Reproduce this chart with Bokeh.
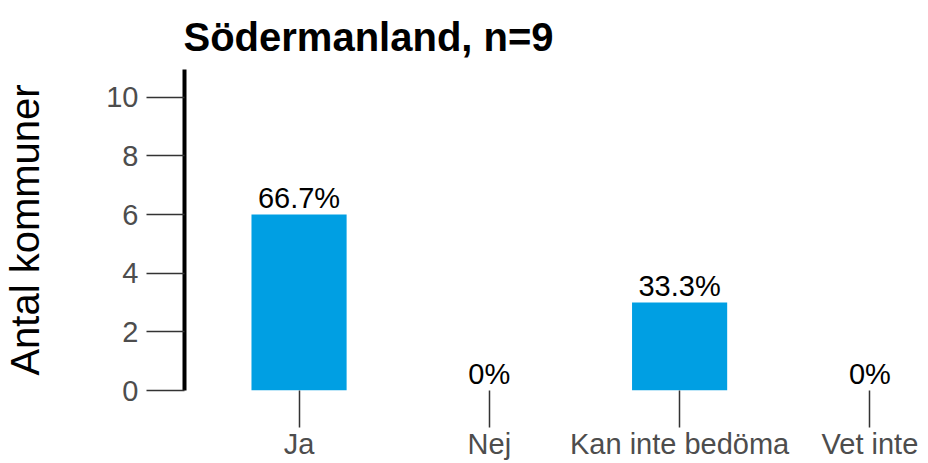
from bokeh.plotting import figure
from bokeh.models import Range1d, FixedTicker, ColumnDataSource, LabelSet
from bokeh.core.properties import value
from bokeh.embed import file_html
from bokeh.resources import INLINE

# Data
categories = ["Ja", "Nej", "Kan inte bedöma", "Vet inte"]
counts = [6, 0, 3, 0]
pct_labels = ["66.7%", "0%", "33.3%", "0%"]
y_ticks = [0, 2, 4, 6, 8, 10]
title_text = "Södermanland, n=9"
y_label = "Antal kommuner"

positions = list(range(1, len(categories) + 1))

FONT = "Liberation Sans"
BAR_COLOR = "#009FE3"

p = figure(
    width=928, height=463,
    x_range=Range1d(0.398, 4.308),
    y_range=Range1d(0, 10.95),
    output_backend="svg", toolbar_location=None,
    min_border_left=184, min_border_right=0,
    min_border_top=69, min_border_bottom=73,
    title=title_text,
)
p.outline_line_color = None
p.background_fill_color = "white"
p.border_fill_color = "white"
p.xgrid.visible = False
p.ygrid.visible = False

src = ColumnDataSource(dict(x=positions, top=counts, lab=pct_labels))
p.vbar(x="x", top="top", bottom=0, width=0.5, source=src,
       fill_color=BAR_COLOR, line_color=None)

labels = LabelSet(x="x", y="top", text="lab", source=src,
                  text_align="center", text_baseline="alphabetic",
                  y_offset=7, text_font=value(FONT), text_font_size=value("29px"),
                  text_color=value("black"))
p.add_layout(labels)

# Title
p.title.text_font = FONT
p.title.text_font_size = "40px"
p.title.text_font_style = "bold"
p.title.text_color = "black"
p.title.align = "left"
p.title.standoff = 21
p.title.offset = -1

# Y axis
ya = p.yaxis[0]
ya.ticker = FixedTicker(ticks=y_ticks)
ya.axis_label = y_label
ya.axis_label_text_font = FONT
ya.axis_label_text_font_size = "40px"
ya.axis_label_text_font_style = "normal"
ya.axis_label_text_color = "black"
ya.axis_label_standoff = 56
ya.axis_line_color = "black"
ya.axis_line_width = 4
ya.major_tick_out = 38
ya.major_tick_in = 0
ya.major_tick_line_color = "#333333"
ya.major_tick_line_width = 1.5
ya.minor_tick_line_color = None
ya.major_label_text_font = FONT
ya.major_label_text_font_size = "29px"
ya.major_label_text_color = "#4d4d4d"
ya.major_label_standoff = 8

# X axis
xa = p.xaxis[0]
xa.ticker = FixedTicker(ticks=positions)
xa.major_label_overrides = {pos: cat for pos, cat in zip(positions, categories)}
xa.axis_line_color = None
xa.major_tick_out = 37
xa.major_tick_in = 0
xa.major_tick_line_color = "#333333"
xa.major_tick_line_width = 1.5
xa.minor_tick_line_color = None
xa.major_label_text_font = FONT
xa.major_label_text_font_size = "29px"
xa.major_label_text_color = "#4d4d4d"
xa.major_label_standoff = 0

open("out.html", "w").write(file_html(p, INLINE))
